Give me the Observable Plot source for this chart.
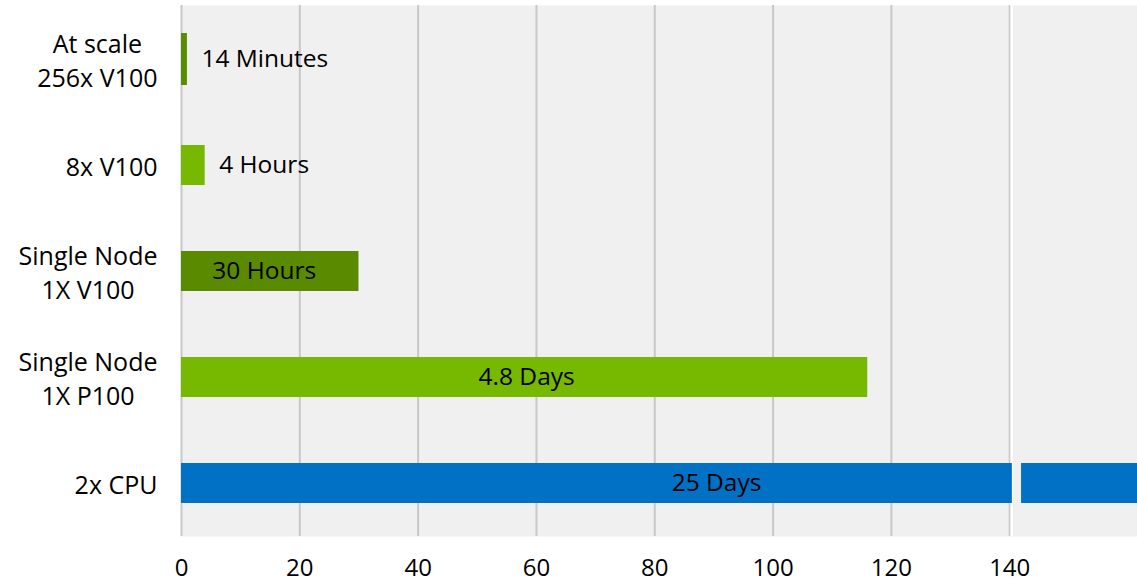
<!DOCTYPE html>
<html>
<head>
<meta charset="utf-8">
<script src="https://cdn.jsdelivr.net/npm/d3@7"></script>
<script src="https://cdn.jsdelivr.net/npm/@observablehq/plot@0.6"></script>
<style>
  html, body { margin: 0; padding: 0; background: #ffffff; }
  #chart { width: 1137px; height: 584px; }
</style>
</head>
<body>
<div id="chart"></div>
<script>
// ---- data ----
const categories = ["At scale\n256x V100", "8x V100", "Single Node\n1X V100", "Single Node\n1X P100", "2x CPU"];
const hours = [1, 4, 30, 116, 600];          // bar lengths in hours (14 min bar drawn ~1)
const labels = ["14 Minutes", "4 Hours", "30 Hours", "4.8 Days", "25 Days"];
const xTicks = [0, 20, 40, 60, 80, 100, 120, 140];

// ---- axis break ----
const xMax = 161.6;
const breakAt = 140.45;   // where the long bar is cut
const resumeAt = 142.0;   // where it continues
const gapAt = 140.33;     // white gap in the background

// ---- styles ----
const fillFor = {"At scale\n256x V100": "#5b8c00", "8x V100": "#76b900", "Single Node\n1X V100": "#5a8a00", "Single Node\n1X P100": "#76b900", "2x CPU": "#0071c5"};
const labelDx = {"30 Hours": -6, "4.8 Days": 2, "25 Days": 57};

const rows = categories.map((c, i) => ({
  cat: c,
  h: hours[i],
  label: labels[i],
  shown: Math.min(hours[i], breakAt),
  broken: hours[i] > breakAt,
  inside: hours[i] > 20
}));

const chart = Plot.plot({
  width: 1137,
  height: 584,
  marginLeft: 181,
  marginRight: 0,
  marginTop: 5,
  marginBottom: 48,
  style: {fontFamily: "'Open Sans', sans-serif", fontSize: "24px", color: "#000", background: "#fff"},
  x: {domain: [0, xMax], axis: null},
  y: {domain: categories, padding: 0, axis: null},
  marks: [
    Plot.frame({fill: "#f0f0f0", stroke: null}),
    Plot.gridX(xTicks, {stroke: "#c8c8c8", strokeOpacity: 1, strokeWidth: 2}),
    Plot.ruleX([gapAt], {stroke: "#ffffff", strokeWidth: 2.5}),
    // thin top bar (taller band)
    Plot.barX(rows.filter((d, i) => i === 0), {x1: 0, x2: "shown", y: "cat", fill: d => fillFor[d.cat], insetTop: 27, insetBottom: 27}),
    Plot.barX(rows.filter((d, i) => i > 0), {x1: 0, x2: "shown", y: "cat", fill: d => fillFor[d.cat], insetTop: 33, insetBottom: 33}),
    // continuation after the break
    Plot.barX(rows.filter(d => d.broken), {x1: resumeAt, x2: xMax, y: "cat", fill: d => fillFor[d.cat], insetTop: 33, insetBottom: 33}),
    // labels outside small bars
    Plot.text(rows.filter(d => !d.inside), {x: "h", y: "cat", text: "label", textAnchor: "start", dx: 14, fill: "#000", fontSize: 24.5}),
    // labels inside long bars
    ...rows.filter(d => d.inside).map(d =>
      Plot.text([d], {x: r => (r.broken ? xMax : r.shown) / 2, y: "cat", text: "label", textAnchor: "middle", dx: labelDx[d.label] || 0, fill: "#000", fontSize: 24.5})
    ),
    Plot.axisX(xTicks, {tickSize: 0, tickPadding: 22, fontSize: 24, fill: "#000", label: null}),
    Plot.axisY({tickSize: 0, tickPadding: 24, fontSize: 25, lineHeight: 1.36, fill: "#000", label: null})
  ]
});

document.getElementById("chart").appendChild(chart);

// center the lines of multi-line category labels within their right-aligned block
chart.querySelectorAll('g[aria-label="y-axis tick label"] text').forEach(t => {
  const spans = t.querySelectorAll("tspan");
  if (spans.length > 1) {
    let w = 0;
    spans.forEach(s => { w = Math.max(w, s.getComputedTextLength()); });
    t.setAttribute("text-anchor", "middle");
    spans.forEach(s => s.setAttribute("x", -w / 2));
  }
});
</script>
</body>
</html>
